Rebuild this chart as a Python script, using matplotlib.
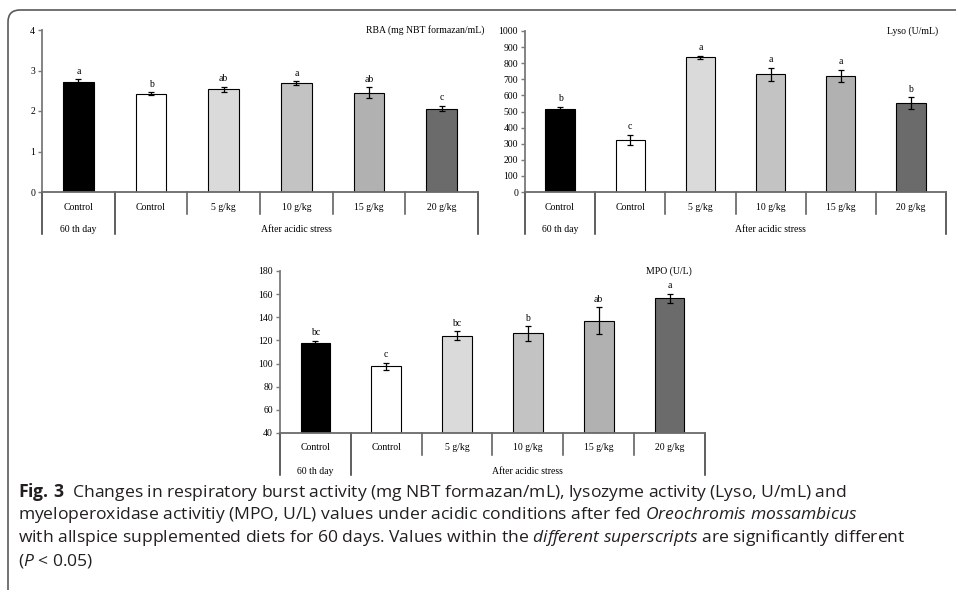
import matplotlib
matplotlib.use('Agg')
import matplotlib.pyplot as plt
import matplotlib.transforms as mtransforms
from matplotlib.patches import FancyBboxPatch
import numpy as np

# categories (first row of x labels) and group labels (second row)
categories = ['Control', 'Control', '5 g/kg', '10 g/kg', '15 g/kg', '20 g/kg']
group_labels = ['60 th day', 'After acidic stress']

rba_mean = [2.71, 2.43, 2.54, 2.69, 2.45, 2.06]
rba_err = [0.07, 0.03, 0.06, 0.05, 0.14, 0.07]
rba_letters = ['a', 'b', 'ab', 'a', 'ab', 'c']

lyso_mean = [513, 322, 837, 732, 722, 551]
lyso_err = [17, 33, 8, 40, 37, 37]
lyso_letters = ['b', 'c', 'a', 'a', 'a', 'b']

mpo_mean = [117.5, 97.6, 124.1, 126.1, 137.1, 156.4]
mpo_err = [2.3, 3.0, 4.0, 6.3, 11.8, 4.0]
mpo_letters = ['bc', 'c', 'bc', 'b', 'ab', 'a']

bar_colors = ['black', 'white', '#dadada', '#c3c3c3', '#b1b1b1', '#6b6b6b']

serif = 'Liberation Serif'
fs = 7

plt.rcParams['mathtext.fontset'] = 'custom'
plt.rcParams['mathtext.rm'] = 'Open Sans'
plt.rcParams['mathtext.it'] = 'Open Sans:italic'
plt.rcParams['mathtext.bf'] = 'Open Sans:bold'

fig = plt.figure(figsize=(9.56, 5.9), dpi=100)


def panel(rect, means, errs, letters, title, ylim, yticks, title_x):
    ax = fig.add_axes(rect)
    x = np.arange(len(categories))
    ax.bar(x, np.array(means) - ylim[0], bottom=ylim[0], width=0.42, color=bar_colors,
           edgecolor='black', linewidth=0.8, zorder=2)
    ax.errorbar(x, means, yerr=errs, fmt='none', ecolor='black', elinewidth=0.9,
                capsize=2.3, capthick=0.9, zorder=3)
    for xi, m, e, l in zip(x, means, errs, letters):
        ax.annotate(l, (xi, m + e), xytext=(0, 2.5), textcoords='offset points',
                    ha='center', va='bottom', fontsize=fs, family=serif)
    ax.set_xlim(-0.5, len(categories) - 0.5)
    ax.set_ylim(*ylim)
    ax.set_yticks(yticks)
    ax.set_xticks([])
    for s in ['top', 'right']:
        ax.spines[s].set_visible(False)
    ax.spines['left'].set_color('#7a7a7a')
    ax.spines['left'].set_linewidth(1.3)
    ax.spines['bottom'].set_color('#6a6a6a')
    ax.spines['bottom'].set_linewidth(1.3)
    ax.tick_params(axis='y', length=3, width=1, color='#7a7a7a', pad=2,
                   labelsize=fs)
    for t in ax.get_yticklabels():
        t.set_family(serif)
    ax.text(title_x, 1.0, title, transform=ax.transAxes, ha='right', va='center',
            fontsize=fs, family=serif)

    # table-like labels under the axis
    h = rect[3] * 590
    tr = ax.get_xaxis_transform()
    r1 = -15 / h
    r2 = -38 / h
    short = -22 / h
    full = -42 / h
    for i, c in enumerate(categories):
        ax.text(i, r1, c, transform=tr, ha='center', va='center', fontsize=fs, family=serif)
    ax.text(0, r2, group_labels[0], transform=tr, ha='center', va='center', fontsize=fs, family=serif)
    ax.text(3, r2, group_labels[1], transform=tr, ha='center', va='center', fontsize=fs, family=serif)
    for b in [1.5, 2.5, 3.5, 4.5]:
        ax.plot([b, b], [0, short], transform=tr, color='#555555', lw=1.1, clip_on=False)
    for b in [-0.5, 0.5, 5.5]:
        ax.plot([b, b], [0, full], transform=tr, color='#333333', lw=1.1, clip_on=False)
    return ax


panel([42 / 956, 1 - 192 / 590, 436 / 956, 162 / 590], rba_mean, rba_err, rba_letters,
      'RBA (mg NBT formazan/mL)', (0, 4), [0, 1, 2, 3, 4], 1.015)
panel([525 / 956, 1 - 192 / 590, 421 / 956, 161 / 590], lyso_mean, lyso_err, lyso_letters,
      'Lyso (U/mL)', (0, 1000), list(range(0, 1001, 100)), 0.981)
panel([280 / 956, 1 - 433 / 590, 425 / 956, 162 / 590], mpo_mean, mpo_err, mpo_letters,
      'MPO (U/L)', (40, 180), list(range(40, 181, 20)), 0.969)

# caption
cap_lines = [
    r'$\mathbf{Fig.\!\ 3}$  Changes in respiratory burst activity (mg NBT formazan/mL), lysozyme activity (Lyso, U/mL) and',
    r'myeloperoxidase activitiy (MPO, U/L) values under acidic conditions after fed $\mathit{Oreochromis\ mossambicus}$',
    r'with allspice supplemented diets for 60 days. Values within the $\mathit{different\ superscripts}$ are significantly different',
    r'($\mathit{P}$ < 0.05)',
]
cap_y = [492, 515, 538, 561]
for line, y in zip(cap_lines, cap_y):
    fig.text(18 / 956, 1 - y / 590, line, ha='left', va='center', fontsize=12.6,
             family='Open Sans', color='#231f20')

# rounded frame (top and left edges visible)
frame = FancyBboxPatch((8, -60), 1100, 640, boxstyle='round,pad=0,rounding_size=12',
                       transform=mtransforms.IdentityTransform(), facecolor='none',
                       edgecolor='#5a5a5a', linewidth=1.2)
fig.add_artist(frame)

fig.savefig('out.png', dpi=100)
